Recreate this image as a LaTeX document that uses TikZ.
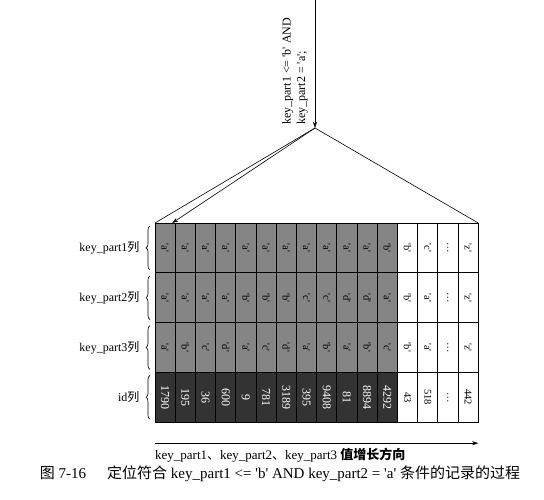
\documentclass[tikz,border=0pt]{standalone}
\usepackage{fontspec}
\setmainfont{Liberation Serif}
\newfontfamily\cjk{Noto Sans CJK SC}
\usepackage{graphicx}
\usepackage{tikz}
\usetikzlibrary{arrows.meta,positioning,decorations.pathreplacing}
\newcommand{\q}[1]{\textquotesingle#1\textquotesingle}
\tikzset{
  cell/.style={draw, line width=0.8pt, minimum width=20.2pt, minimum height=49.8pt,
    inner sep=0pt, outer sep=0pt, anchor=north west, font=\fontsize{10.5}{12}\selectfont},
  scan1/.style={cell, fill=black!48},
  scan2/.style={scan1},
  scan3/.style={scan1},
  scan4/.style={cell, fill=black!80, text=white, font=\fontsize{12}{14}\selectfont},
  rest/.style={cell, fill=white},
  rowlab/.style={font=\fontsize{12}{14}\selectfont, anchor=east},
  brc/.style={decorate, decoration={brace, amplitude=4pt}, line width=0.6pt},
  arr/.style={-{Stealth[length=6pt,width=4pt]}, line width=0.6pt}
}
\begin{document}
\begin{tikzpicture}[x=1pt,y=1pt]
\useasboundingbox (0,0) rectangle (544,-500);
\foreach \r/\lab/\vals in {
  1/key\_part1/{\q{a},\q{a},\q{a},\q{a},\q{a},\q{a},\q{a},\q{a},\q{a},\q{a},\q{a},\q{b},\q{b},\q{c},\dots,\q{z}},
  2/key\_part2/{\q{a},\q{a},\q{a},\q{a},\q{b},\q{b},\q{b},\q{c},\q{c},\q{d},\q{d},\q{a},\q{b},\q{a},\dots,\q{z}},
  3/key\_part3/{\q{a},\q{b},\q{c},\q{d},\q{a},\q{c},\q{d},\q{a},\q{b},\q{a},\q{b},\q{c},\q{b},\q{a},\dots,\q{z}},
  4/id/{1790,195,36,600,9,781,3189,395,9408,81,8894,4292,43,518,\dots,442}}{
  \foreach \v [count=\i from 0] in \vals {
    \edef\st{\ifnum\i<12 scan\r\else rest\fi}
    \node[\st] (k\r-\i) at (155+20.2*\i, -223-49.8*\r+49.8) {\rotatebox{-90}{\v}};
  }
  \draw[brc] ([xshift=-5pt,yshift=3pt]k\r-0.south west) -- ([xshift=-5pt,yshift=-3pt]k\r-0.north west);
  \node[rowlab, left=12pt of k\r-0.west] (lab\r) {\lab{\cjk 列}};
}
\coordinate (src) at (315,0);
\coordinate (apex) at (315,-128);
\draw[arr] (src) -- (apex);
\node[rotate=90, align=left, anchor=south west, inner sep=1pt, font=\fontsize{12}{14.5}\selectfont] (cond) at (309,-126)
  {key\_part1 <= \q{b} AND\\key\_part2 = \q{a};};
\draw[line width=0.6pt] (apex) -- (k1-0.north west);
\draw[line width=0.6pt] (apex) -- (k1-15.north east);
\draw[arr] (apex) -- ([xshift=-3pt]k1-0.north east);
\coordinate (d0) at ([yshift=-21pt]k4-0.south west);
\coordinate (d1) at ([yshift=-21pt]k4-15.south east);
\draw[arr] (d0) -- (d1);
\node[anchor=west, inner sep=0pt, font=\fontsize{13}{15}\selectfont] (dir) at (155,-455)
  {key\_part1{\cjk 、}key\_part2{\cjk 、}key\_part3 {\cjk\bfseries 值增长方向}};
\node[inner sep=0pt, font=\fontsize{15}{17}\selectfont] (cap) at (280,-474)
  {{\cjk 图} 7-16\hspace{1.4em}{\cjk 定位符合} key\_part1 <= \q{b} AND key\_part2 = \q{a} {\cjk 条件的记录的过程}};
\end{tikzpicture}
\end{document}
